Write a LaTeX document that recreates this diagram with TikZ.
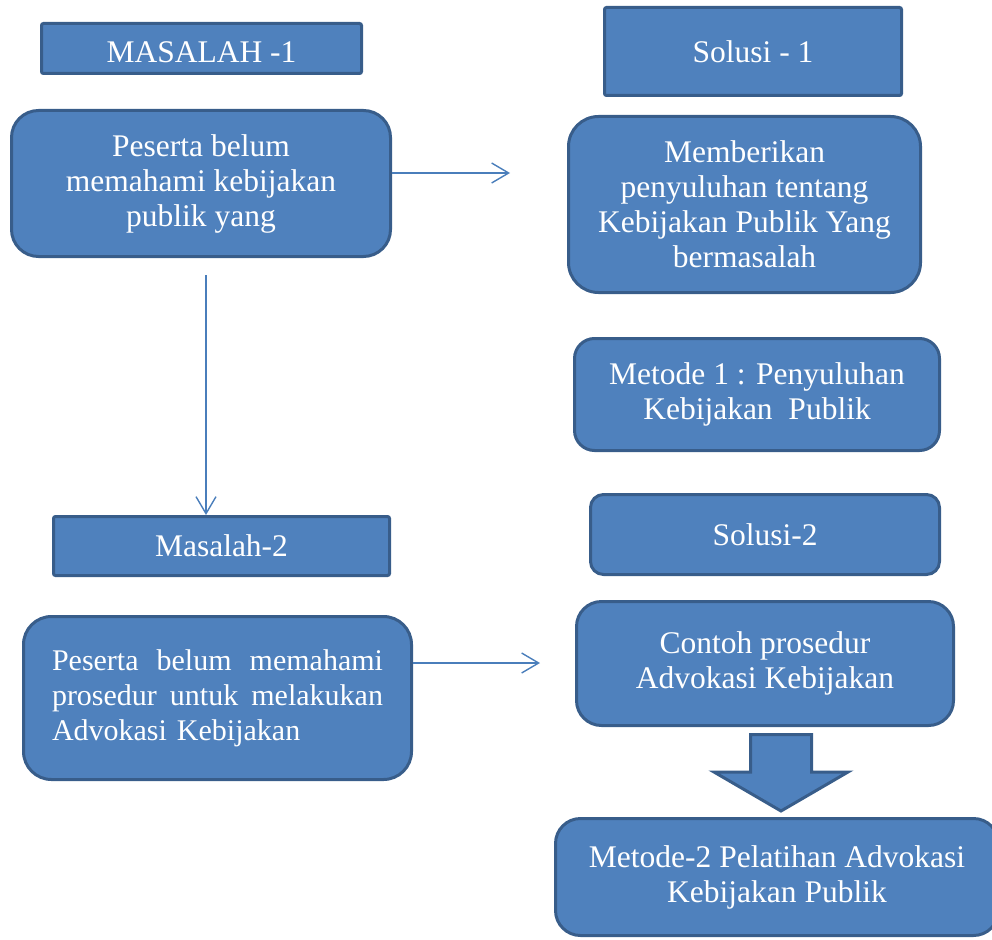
\documentclass[tikz,border=0pt]{standalone}
\usepackage{fontspec}
\setmainfont{Liberation Serif}
\usetikzlibrary{arrows.meta}
\definecolor{boxfill}{HTML}{4F81BD}
\definecolor{boxline}{HTML}{385D8A}
\definecolor{linkblue}{HTML}{4A7EBB}
\newcommand{\boxfont}{\fontsize{31.5}{35}\selectfont}
\newcommand{\plainfont}{\fontsize{30}{35}\selectfont}

\begin{document}
\begin{tikzpicture}[x=1pt, y=-1pt,
  box/.style={draw=boxline, fill=boxfill, line width=3pt, text=white, font=\boxfont,
    align=center, inner sep=0pt, rounded corners=2pt},
  rbox/.style={box, rounded corners=#1},
  link/.style={draw=linkblue, line width=1.4pt, -{Straight Barb[length=17pt, width=20pt]}}]
  \useasboundingbox (0,0) rectangle (992,939);
  % left column
  \node[box, minimum width=320pt, minimum height=50pt] (m1) at (201.5,48.5)
    {\raisebox{-4pt}[20pt][0pt]{MASALAH -1}};
  \node[rbox=27pt, minimum width=379pt, minimum height=146pt] (b1) at (201,183.5)
    {Peserta belum\\memahami kebijakan\\publik yang};
  \node[box, minimum width=336pt, minimum height=59pt] (m2) at (221.5,546) {Masalah-2};
  \node[rbox=28pt, minimum width=388pt, minimum height=163pt, font=\plainfont,
    align=left, text width=331pt] (b2) at (217.5,698)
    {\makebox[331pt][s]{Peserta\hfill belum\hfill memahami}\\
     \makebox[331pt][s]{prosedur\hfill untuk\hfill melakukan}\\
     Advokasi Kebijakan};
  % right column
  \node[box, minimum width=297pt, minimum height=88pt] (s1) at (753,51.5) {Solusi - 1};
  \node[rbox=30pt, minimum width=352pt, minimum height=176pt] (b3) at (744.5,204.5)
    {Memberikan\\penyuluhan tentang\\Kebijakan Publik Yang\\bermasalah};
  \node[rbox=20pt, minimum width=365pt, minimum height=112pt] (t1) at (757,394.5)
    {Metode 1 : Penyuluhan\\Kebijakan~~Publik};
  \node[rbox=13pt, minimum width=349pt, minimum height=80pt] (s2) at (765,534.5) {Solusi-2};
  \node[rbox=25pt, minimum width=377pt, minimum height=124pt] (b4) at (765,663.5)
    {Contoh prosedur\\Advokasi Kebijakan};
  \node[rbox=25pt, minimum width=443pt, minimum height=117pt] (t2) at (777,877)
    {Metode-2 Pelatihan Advokasi\\Kebijakan Publik};
  % connectors
  \coordinate (a1) at (510,173);
  \coordinate (a2) at (540,663);
  \coordinate (v1) at (206,275);
  \draw[link] (b1.east |- a1) -- (a1);
  \draw[link] (b2.east |- a2) -- (a2);
  \draw[link] (v1) -- (v1 |- m2.north);
  \draw[draw=boxline, fill=boxfill, line width=3pt] (750.5,734.5) -- (811.5,734.5)
    -- (811.5,772) -- (848,772) -- (781,811) -- (714,772) -- (750.5,772) -- cycle;
\end{tikzpicture}
\end{document}
